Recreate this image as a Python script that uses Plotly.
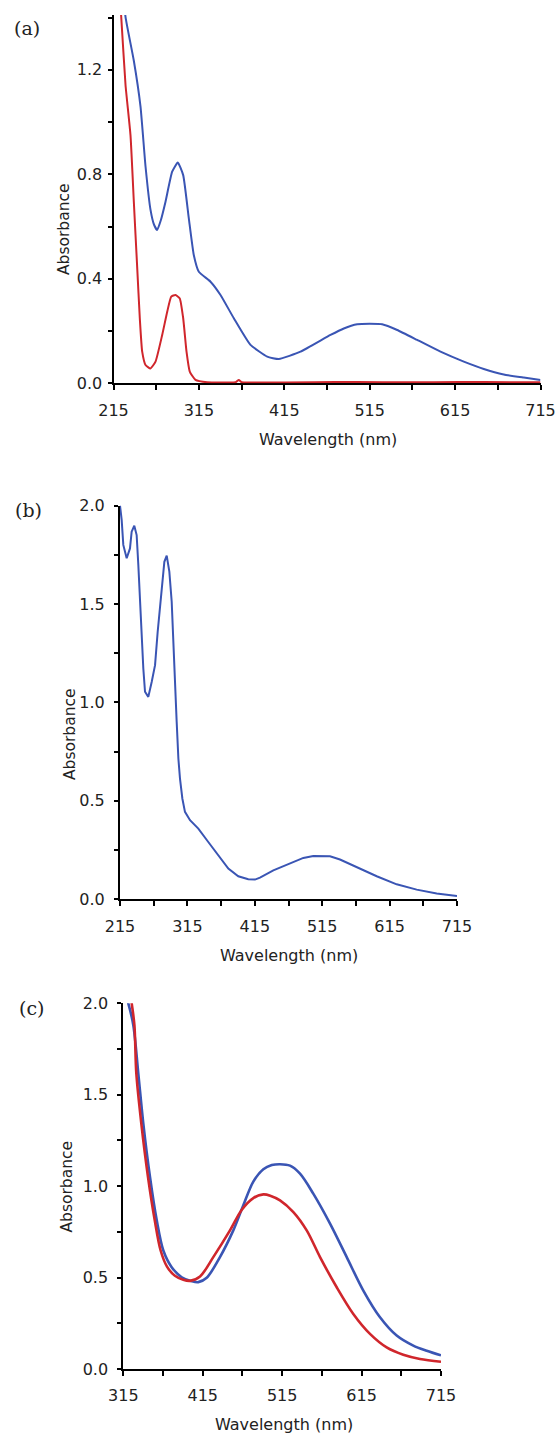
import plotly.graph_objects as go

# ---------------- data ----------------
# Panel (a)
a_blue_wl = [224, 229.1, 238.8, 246.6, 252.5, 258.3, 262.5, 266.2, 270.5, 275.9, 283.7, 290.3, 296.6,
             303.2, 309.0, 314.9, 328.6, 340.3, 355.9, 375.4, 395.0, 408.6, 434.0, 469.1, 484.7,
             500.4, 515.0, 529.6, 547.2, 570.6, 597.9, 625.2, 648.6, 672.0, 695.4, 715.0]
a_blue_abs = [1.58, 1.402, 1.235, 1.060, 0.830, 0.665, 0.607, 0.587, 0.625, 0.695, 0.810, 0.845, 0.797,
              0.631, 0.491, 0.427, 0.389, 0.338, 0.249, 0.147, 0.102, 0.093, 0.121, 0.185, 0.210,
              0.226, 0.228, 0.226, 0.204, 0.166, 0.121, 0.083, 0.055, 0.034, 0.022, 0.013]

a_red_wl = [219, 224.0, 229.1, 234.9, 238.8, 242.8, 245.8, 248.6, 252.5, 258.3, 264.2, 272.0, 277.9,
            282.6, 287.6, 292.6, 296.6, 300.5, 304.3, 311.0, 324.7, 345, 358, 361.7, 365, 380, 450,
            500, 560, 620, 680, 715]
a_red_abs = [1.65, 1.405, 1.141, 0.950, 0.695, 0.440, 0.249, 0.121, 0.070, 0.057, 0.083, 0.185, 0.274,
             0.332, 0.338, 0.325, 0.249, 0.121, 0.045, 0.013, 0.004, 0.003, 0.004, 0.013, 0.004, 0.003,
             0.004, 0.005, 0.004, 0.005, 0.004, 0.004]

# Panel (b)
b_wl = [215, 217.5, 219.9, 224.9, 229.8, 232.3, 236.2, 239.7, 242.2, 244.7, 247.2, 249.6, 252.1,
        257.0, 262.0, 267.0, 270.9, 274.4, 277.8, 280.8, 284.3, 288.2, 291.7, 294.1, 296.6, 299.1,
        301.6, 304.0, 307.5, 311.4, 318.9, 331.2, 346.0, 360.8, 375.7, 390.5, 405.3, 415.3, 422.7,
        442.5, 467.2, 487.0, 501.8, 526.6, 541.4, 566.2, 595.9, 625.5, 655.2, 684.9, 715.0]
b_abs = [2.0, 1.926, 1.80, 1.732, 1.782, 1.867, 1.897, 1.85, 1.698, 1.511, 1.291, 1.172, 1.054,
         1.028, 1.104, 1.189, 1.359, 1.494, 1.613, 1.714, 1.745, 1.664, 1.511, 1.291, 1.088, 0.901,
         0.715, 0.613, 0.512, 0.444, 0.402, 0.359, 0.291, 0.224, 0.156, 0.117, 0.102, 0.100, 0.110,
         0.147, 0.184, 0.210, 0.220, 0.219, 0.202, 0.164, 0.117, 0.076, 0.049, 0.029, 0.017]

# Panel (c)
c_blue_wl = [319, 321.3, 327.6, 333.9, 340.2, 348.6, 357.1, 365.4, 375.9, 388.5, 401.1, 409.4, 420.0,
             436.7, 453.5, 466.1, 478.7, 491.3, 502.0, 512.3, 524.9, 537.5, 554.2, 575.3, 596.3,
             617.2, 638.2, 659.2, 680.1, 697.0, 715.0]
c_blue_abs = [2.03, 2.0, 1.88, 1.616, 1.342, 1.05, 0.813, 0.648, 0.557, 0.502, 0.480, 0.475, 0.499,
              0.612, 0.758, 0.895, 1.025, 1.092, 1.115, 1.120, 1.112, 1.068, 0.959, 0.795, 0.612,
              0.429, 0.283, 0.183, 0.128, 0.100, 0.075]

c_red_wl = [324.5, 325.6, 329.0, 331.4, 337.7, 346.1, 354.6, 362.0, 370.0, 380.0, 390.5, 399.0, 411.6,
            428.3, 449.3, 464.0, 478.7, 491.3, 500.0, 512.3, 529.1, 545.9, 562.7, 583.7, 604.6,
            625.6, 646.6, 667.5, 688.5, 715.0]
c_red_abs = [2.04, 2.0, 1.88, 1.616, 1.342, 1.05, 0.813, 0.648, 0.560, 0.510, 0.488, 0.482, 0.506,
             0.612, 0.758, 0.870, 0.935, 0.955, 0.948, 0.922, 0.858, 0.758, 0.612, 0.447, 0.301,
             0.192, 0.118, 0.078, 0.055, 0.040]

panel_labels = ["(a)", "(b)", "(c)"]
x_title = "Wavelength (nm)"
y_title = "Absorbance"

# ---------------- style ----------------
W, H = 557, 1433
BLUE = "#3A55B4"
RED = "#D0262C"
TXT = "#222222"
SANS = "DejaVu Sans"
SERIF = "DejaVu Serif"


def px_x(p):
    return p / W


def px_y(p):
    return 1 - p / H


fig = go.Figure()

traces = [
    (a_blue_wl, a_blue_abs, BLUE, 2.0, "x", "y", "spline", 0.45),
    (a_red_wl, a_red_abs, RED, 2.0, "x", "y", "spline", 0.45),
    (b_wl, b_abs, BLUE, 2.0, "x2", "y2", "linear", None),
    (c_blue_wl, c_blue_abs, BLUE, 2.6, "x3", "y3", "spline", 0.9),
    (c_red_wl, c_red_abs, RED, 2.6, "x3", "y3", "spline", 0.9),
]
for xs, ys, col, lw, xa, ya, shp, sm in traces:
    fig.add_trace(go.Scatter(
        x=xs, y=ys, mode="lines", xaxis=xa, yaxis=ya,
        line=dict(color=col, width=lw, shape=shp, smoothing=sm),
        showlegend=False, hoverinfo="skip"))


def xaxis(domain, anchor, rng, tick0):
    return dict(domain=domain, anchor=anchor, range=rng, tickmode="linear", tick0=tick0, dtick=100,
                showline=True, linecolor="black", linewidth=2, ticks="outside", ticklen=5,
                tickwidth=1.6, tickcolor="black", showgrid=False, zeroline=False,
                tickfont=dict(family=SANS, size=16, color=TXT), ticklabelstandoff=6,
                layer="below traces", automargin=False,
                minor=dict(dtick=50, tick0=tick0, ticks="outside", ticklen=5, tickwidth=1.6,
                           tickcolor="black", showgrid=False))


def yaxis(domain, anchor, rng, dt, mdt, standoff):
    return dict(domain=domain, anchor=anchor, range=rng, tickmode="linear", tick0=0, dtick=dt,
                tickformat=".1f", showline=True, linecolor="black", linewidth=2, ticks="outside",
                ticklen=4, tickwidth=1.6, tickcolor="black", showgrid=False, zeroline=False,
                tickfont=dict(family=SANS, size=16, color=TXT), ticklabelstandoff=standoff,
                layer="below traces", automargin=False,
                minor=dict(dtick=mdt, tick0=0, ticks="outside", ticklen=4, tickwidth=1.6,
                           tickcolor="black", showgrid=False))


# pixel geometry of each panel (left, right, top, bottom)
geo_a = (113.5, 540.5, 15, 383.3)
geo_b = (120, 457, 505.5, 899.3)
geo_c = (123.3, 441, 1003.3, 1369)

fig.update_layout(
    width=W, height=H, margin=dict(l=0, r=0, t=0, b=0, pad=0, autoexpand=False),
    paper_bgcolor="white", plot_bgcolor="white",
    xaxis=xaxis([px_x(geo_a[0]), px_x(geo_a[1])], "y", [215, 715], 215),
    yaxis=yaxis([px_y(geo_a[3]), px_y(geo_a[2])], "x", [0, 1.41], 0.4, 0.2, 2),
    xaxis2=xaxis([px_x(geo_b[0]), px_x(geo_b[1])], "y2", [215, 715], 215),
    yaxis2=yaxis([px_y(geo_b[3]), px_y(geo_b[2])], "x2", [0, 2.0], 0.5, 0.25, 6),
    xaxis3=xaxis([px_x(geo_c[0]), px_x(geo_c[1])], "y3", [315, 715], 315),
    yaxis3=yaxis([px_y(geo_c[3]), px_y(geo_c[2])], "x3", [0, 2.0], 0.5, 0.25, 6),
)

annotations = []
# panel labels
for lab, (cx, cy) in zip(panel_labels, [(27, 28), (28, 510), (31, 1008)]):
    annotations.append(dict(text=lab, x=px_x(cx), y=px_y(cy), xref="paper", yref="paper",
                            xanchor="center", yanchor="middle", showarrow=False,
                            font=dict(family=SERIF, size=19, color=TXT)))
# y titles
for (cx, cy) in [(64, 229), (70, 734), (66.5, 1187)]:
    annotations.append(dict(text=y_title, x=px_x(cx), y=px_y(cy), xref="paper", yref="paper",
                            xanchor="center", yanchor="middle", showarrow=False, textangle=-90,
                            font=dict(family=SANS, size=15.5, color=TXT)))
# x titles
for (cx, cy) in [(327.5, 439), (289, 955), (284, 1424.5)]:
    annotations.append(dict(text=x_title, x=px_x(cx), y=px_y(cy), xref="paper", yref="paper",
                            xanchor="center", yanchor="middle", showarrow=False,
                            font=dict(family=SANS, size=16, color=TXT)))
fig.update_layout(annotations=annotations)

fig.write_html(
    "out.html",
    config={"displayModeBar": False},
    post_script="document.body.style.margin='0';document.body.style.overflow='hidden';",
)
